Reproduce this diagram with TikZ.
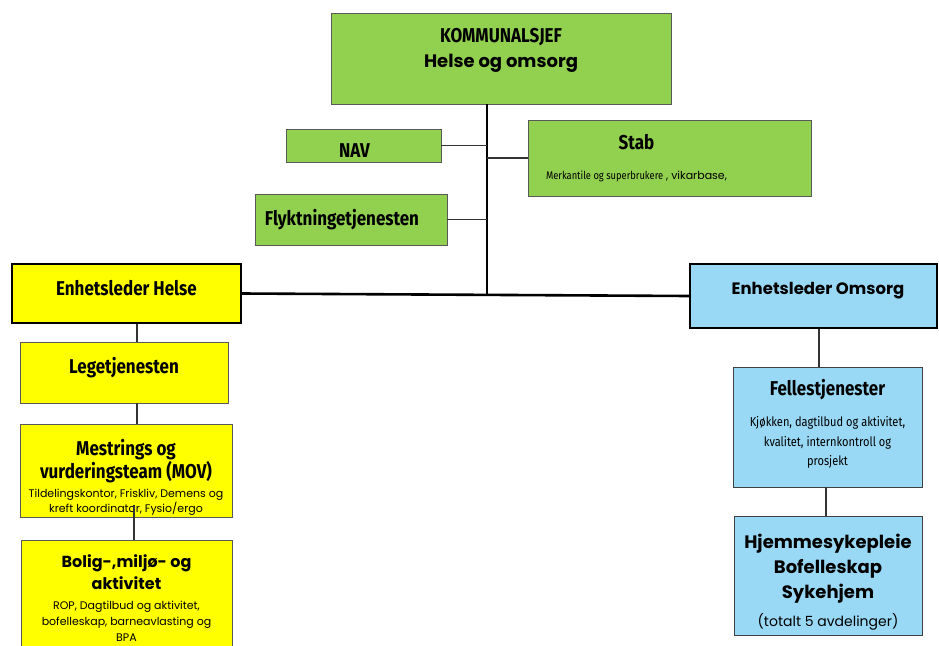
\documentclass[tikz,border=0pt]{standalone}
\usepackage{fontspec}
\setmainfont{Poppins}
\newfontfamily\narrowfont[FakeStretch=0.85]{Fira Sans}
\newfontfamily\roundfont{Poppins}
\definecolor{kgreen}{HTML}{92D050}
\definecolor{kyellow}{HTML}{FFFF00}
\definecolor{kblue}{HTML}{99D9F5}
\tikzset{
  orgbox/.style={draw=black!65, line width=0.9pt, align=center, inner sep=0pt},
  greenbox/.style={orgbox, fill=kgreen},
  yellowbox/.style={orgbox, fill=kyellow},
  bluebox/.style={orgbox, fill=kblue, draw=black!75},
  leaderbox/.style={draw=black, line width=2.4pt},
  link/.style={draw=black!80, line width=1.2pt},
  trunkline/.style={draw=black, line width=2.6pt},
  headnarrow/.style={font=\narrowfont\bfseries\fontsize{20}{24}\selectfont},
  headround/.style={font=\roundfont\bfseries\fontsize{16.5}{22}\selectfont},
}
\newcommand{\subnarrow}{\narrowfont\mdseries\fontsize{13}{19}\selectfont}
\newcommand{\subround}{\roundfont\mdseries\fontsize{11}{15}\selectfont}

\begin{document}
\begin{tikzpicture}[x=1pt, y=-1pt]
  \useasboundingbox (0,0) rectangle (939,645);

  %%%%% top level %%%%%
  \node[greenbox, headnarrow, minimum width=340, minimum height=91] (kom) at (501,58.5)
    {KOMMUNALSJEF\\[1pt]{\roundfont\fontsize{18}{22}\selectfont Helse og omsorg}\\[-2pt]};

  \node[greenbox, headnarrow, minimum width=155, minimum height=33] (nav) at (363.5,145.5)
    {\\[0pt]NAV\hspace*{18pt}};
  \node[greenbox, headnarrow, minimum width=283, minimum height=76] (stab) at (669.5,158)
    {Stab\hspace*{66pt}\\[6pt]{\narrowfont\mdseries\fontsize{11}{14}\selectfont Merkantile og superbrukere}{\subround\ , vikarbase,}\hspace*{66pt}};
  \node[greenbox, headnarrow, minimum width=192, minimum height=51] (flykt) at (351,219.5)
    {Flyktningetjenesten\hspace*{18pt}};

  %%%%% leaders %%%%%
  \node[yellowbox, leaderbox, headnarrow, minimum width=229, minimum height=59] (helse) at (126.5,293.5)
    {Enhetsleder Helse\\[-13pt]};
  \node[bluebox, leaderbox, headround, minimum width=247, minimum height=64] (omsorg) at (813.5,296)
    {\hspace*{9pt}Enhetsleder Omsorg\\[-6pt]};

  %%%%% helse %%%%%
  \node[yellowbox, headnarrow, minimum width=208, minimum height=61] (lege) at (124,372.5)
    {Legetjenesten\\[-9pt]};
  \node[yellowbox, headnarrow, minimum width=212, minimum height=93] (mov) at (126,470.5)
    {\\[6pt]Mestrings og\\[-1pt]vurderingsteam (MOV)\\[-5pt]{\subround Tildelingskontor, Friskliv, Demens og}\\[-9pt]{\subround kreft koordinator, Fysio/ergo}};
  \node[yellowbox, font=\roundfont\bfseries\fontsize{16}{22}\selectfont,
        minimum width=211, anchor=north, inner ysep=14pt] (bolig) at (126.5,540)
    {Bolig-,milj\o- og\\aktivitet\\[-2pt]{\subround ROP, Dagtilbud og aktivitet,}\\[-6pt]{\subround bofelleskap, barneavlasting og}\\[-6pt]{\subround BPA}};

  %%%%% omsorg %%%%%
  \node[bluebox, headnarrow, minimum width=189, minimum height=120] (fell) at (827.5,427)
    {Fellestjenester\\[7pt]{\subnarrow Kj\o kken, dagtilbud og aktivitet,}\\[-4.5pt]{\subnarrow kvalitet, internkontroll og}\\[-4.5pt]{\subnarrow prosjekt}\\[-15pt]};
  \node[bluebox, font=\roundfont\bfseries\fontsize{18}{25}\selectfont,
        minimum width=188, minimum height=119] (hjem) at (828,575.5)
    {\\[2pt]Hjemmesykepleie\\Bofelleskap\\Sykehjem\\[3pt]{\roundfont\mdseries\fontsize{14}{16}\selectfont (totalt 5 avdelinger)}};

  %%%%% lines %%%%%
  \coordinate (trunk) at ([xshift=-14pt]kom.south);
  \draw[trunkline] (trunk) -- (trunk |- omsorg.west);
  \draw[trunkline] (helse.east) -- (omsorg.west);
  \draw[link] (nav.east) -- (nav.east -| trunk);
  \draw[link] (stab.west) -- (stab.west -| trunk);
  \draw[link] (flykt.east) -- (flykt.east -| trunk);

  \draw[link] ([xshift=10.5pt]helse.south) -- ([xshift=10.5pt]helse.south |- lege.north);
  \draw[link] ([xshift=13pt]lege.south) -- ([xshift=13pt]lege.south |- mov.north);
  \draw[link] ([xshift=8pt,yshift=12pt]mov.south) -- ([xshift=8pt]mov.south |- bolig.north);

  \draw[link] ([xshift=5.5pt]omsorg.south) -- ([xshift=5.5pt]omsorg.south |- fell.north);
  \draw[link] ([xshift=-1.5pt]fell.south) -- ([xshift=-1.5pt]fell.south |- hjem.north);
\end{tikzpicture}
\end{document}
